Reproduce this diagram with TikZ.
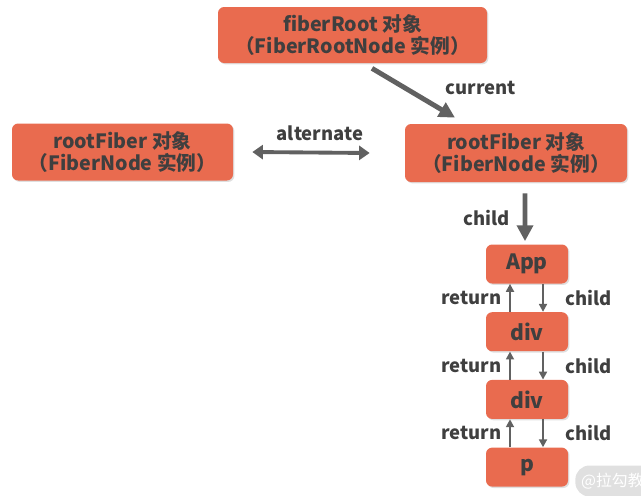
\documentclass[tikz,border=0pt]{standalone}
\usepackage{fontspec}
\setmainfont{Noto Sans CJK SC}
\usetikzlibrary{positioning}
\usetikzlibrary{calc}
\usetikzlibrary{shadows}
\usetikzlibrary{arrows.meta}
\definecolor{boxred}{HTML}{E96B4F}
\definecolor{ink}{HTML}{3F3F3F}
\definecolor{arrowgray}{HTML}{616161}
\tikzstyle{fiber} = [rectangle, rounded corners=3.5pt, fill=boxred, text=ink, align=center,
  inner sep=0pt, font=\fontsize{11.2}{12.8}\selectfont\bfseries,
  drop shadow={opacity=0.25, shadow xshift=0.8pt, shadow yshift=-0.8pt}]
\tikzstyle{leaf} = [fiber, minimum width=1.64cm, minimum height=0.78cm,
  font=\fontsize{12}{12}\selectfont\bfseries, node distance=0.56cm]
\tikzstyle{tag} = [rectangle, inner sep=0pt, text=ink, font=\fontsize{10.5}{12}\selectfont\bfseries]
\tikzstyle{bigarrow} = [draw=arrowgray, line width=2.8pt, -{Triangle[length=9pt,width=9pt]}]
\tikzstyle{twoway} = [draw=arrowgray, line width=2.2pt,
  {Triangle[length=6pt,width=8pt]}-{Triangle[length=6pt,width=8pt]}]
\tikzstyle{smallarrow} = [draw=arrowgray, line width=1.1pt, -{Triangle[length=4.5pt,width=4.5pt]}]

\begin{document}
\begin{tikzpicture}
  \useasboundingbox (0,0) rectangle (12.82,-9.9);

  \node[fiber, minimum width=5.38cm, minimum height=1.12cm] (root) at (7.05,-0.7)
    {fiberRoot 对象\\（FiberRootNode 实例）};
  \node[fiber, minimum width=4.42cm, minimum height=1.14cm] (old) at (2.45,-3.04)
    {rootFiber 对象\\（FiberNode 实例）};
  \node[fiber, minimum width=4.44cm, minimum height=1.16cm] (cur) at (10.32,-3.06)
    {rootFiber 对象\\（FiberNode 实例）};

  \node[leaf] (app) at (10.54,-5.28) {App};
  \node[leaf, below=of app] (div1) {div};
  \node[leaf, below=of div1] (div2) {div};
  \node[leaf, below=of div2] (p) {p};

  % root -> current tree
  \draw[bigarrow] ([xshift=0.39cm,yshift=-0.1cm]root.south) -- ([xshift=-1.22cm,yshift=0.12cm]cur.north);
  \node[tag] (lcur) at (9.62,-1.76) {current};

  % the two trees
  \draw[twoway] ([xshift=0.38cm]old.east) -- ([xshift=-0.7cm]cur.west);
  \node[tag] (lalt) at (6.4,-2.66) {alternate};

  % first child
  \draw[bigarrow] ([xshift=0.18cm,yshift=-0.22cm]cur.south) -- ([xshift=-0.04cm,yshift=0.06cm]app.north);
  \node[tag] (lchild) at (9.74,-4.36) {child};

  % child / return pairs
  \foreach \a/\b in {app/div1, div1/div2, div2/p} {
    \draw[smallarrow] ([xshift=-0.34cm]\b.north) -- ([xshift=-0.34cm]\a.south);
    \draw[smallarrow] ([xshift=0.32cm]\a.south) -- ([xshift=0.32cm]\b.north);
    \node[tag, anchor=east] at ($([xshift=-0.5cm]\a.south)!0.5!([xshift=-0.5cm]\b.north)$) {return};
    \node[tag, anchor=west] at ($([xshift=0.76cm]\a.south)!0.5!([xshift=0.76cm]\b.north)$) {child};
  }

  \node[rectangle, rounded corners=8pt, fill=black!12, text=white, anchor=west,
    minimum height=0.62cm, font=\fontsize{9}{9}\selectfont] (mark) at (11.5,-9.62) {@拉勾教育};
\end{tikzpicture}
\end{document}
